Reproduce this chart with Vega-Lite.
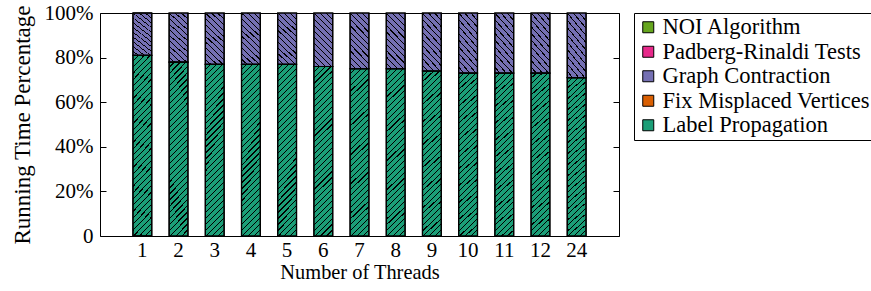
{
  "$schema": "https://vega.github.io/schema/vega-lite/v6.json",
  "autosize": "none",
  "padding": {"left": 100, "top": 13, "right": 252, "bottom": 55},
  "width": 519,
  "height": 223,
  "background": "white",
  "config": {
    "font": "Liberation Serif",
    "view": {"stroke": "black", "strokeWidth": 1},
    "axis": {"labelFont": "Liberation Serif", "titleFont": "Liberation Serif", "labelFontSize": 21, "titleFontSize": 20.4, "titleFontWeight": "normal", "labelColor": "black", "titleColor": "black", "domain": false, "grid": false, "tickColor": "black"}
  },
  "data": {
    "values": [
      {"threads": "1", "series": "Label Propagation", "value": 81},
      {"threads": "1", "series": "Graph Contraction", "value": 19},
      {"threads": "1", "series": "Fix Misplaced Vertices", "value": 0},
      {"threads": "1", "series": "Padberg-Rinaldi Tests", "value": 0},
      {"threads": "1", "series": "NOI Algorithm", "value": 0},
      {"threads": "2", "series": "Label Propagation", "value": 78},
      {"threads": "2", "series": "Graph Contraction", "value": 22},
      {"threads": "3", "series": "Label Propagation", "value": 77},
      {"threads": "3", "series": "Graph Contraction", "value": 23},
      {"threads": "4", "series": "Label Propagation", "value": 77},
      {"threads": "4", "series": "Graph Contraction", "value": 23},
      {"threads": "5", "series": "Label Propagation", "value": 77},
      {"threads": "5", "series": "Graph Contraction", "value": 23},
      {"threads": "6", "series": "Label Propagation", "value": 76},
      {"threads": "6", "series": "Graph Contraction", "value": 24},
      {"threads": "7", "series": "Label Propagation", "value": 75},
      {"threads": "7", "series": "Graph Contraction", "value": 25},
      {"threads": "8", "series": "Label Propagation", "value": 75},
      {"threads": "8", "series": "Graph Contraction", "value": 25},
      {"threads": "9", "series": "Label Propagation", "value": 74},
      {"threads": "9", "series": "Graph Contraction", "value": 26},
      {"threads": "10", "series": "Label Propagation", "value": 73},
      {"threads": "10", "series": "Graph Contraction", "value": 27},
      {"threads": "11", "series": "Label Propagation", "value": 73},
      {"threads": "11", "series": "Graph Contraction", "value": 27},
      {"threads": "12", "series": "Label Propagation", "value": 73},
      {"threads": "12", "series": "Graph Contraction", "value": 27},
      {"threads": "24", "series": "Label Propagation", "value": 71},
      {"threads": "24", "series": "Graph Contraction", "value": 29}
    ]
  },
  "transform": [
    {"stack": "value", "groupby": ["threads"], "sort": [{"field": "series", "order": "descending"}], "as": ["v0", "v1"]}
  ],
  "encoding": {
    "x": {
      "field": "threads", "type": "ordinal",
      "sort": ["1","2","3","4","5","6","7","8","9","10","11","12","24"],
      "scale": {"paddingInner": 0.48, "paddingOuter": 0.91},
      "axis": {"title": "Number of Threads", "labelAngle": 0, "ticks": false, "labelPadding": 3, "titlePadding": 2}
    }
  },
  "layer": [
    {
      "mark": {"type": "bar", "stroke": "black", "strokeWidth": 1.2},
      "encoding": {
        "y": {
          "field": "v0", "type": "quantitative",
          "scale": {"domain": [0, 100], "nice": false},
          "axis": {"title": "Running Time Percentage", "titleFontSize": 23, "orient": "left", "values": [0, 20, 40, 60, 80, 100], "labelExpr": "datum.value == 0 ? '0' : datum.value + '%'", "tickSize": -6, "labelPadding": 13, "titlePadding": 10}
        },
        "y2": {"field": "v1"},
        "color": {
          "field": "series", "type": "nominal",
          "scale": {
            "domain": ["NOI Algorithm", "Padberg-Rinaldi Tests", "Graph Contraction", "Fix Misplaced Vertices", "Label Propagation"],
            "range": ["#66a61e", "#e7298a", "#7570b3", "#d95f02", "#1b9e77"]
          },
          "legend": {
            "title": null, "orient": "none", "legendX": 534, "legendY": 0,
            "strokeColor": "black", "fillColor": "white", "padding": 3,
            "labelFont": "Liberation Serif", "labelFontSize": 22.5, "labelColor": "black", "labelLimit": 400,
            "symbolType": "square", "symbolSize": 121, "symbolStrokeColor": "black", "symbolStrokeWidth": 1, "symbolOpacity": 1,
            "rowPadding": 1.5, "labelOffset": 3
          }
        },
        "opacity": {"value": 1}
      }
    },
    {
      "transform": [{"filter": "datum.series == 'Label Propagation'"}],
      "mark": {
        "type": "bar", "stroke": "black", "strokeWidth": 1.2,
        "fill": {
          "gradient": "linear", "x1": 0, "y1": 0, "x2": 0.1218, "y2": 1.0985,
          "stops": [
            {"offset": 0, "color": "rgba(0,0,0,0)"}, {"offset": 0.025, "color": "rgba(0,0,0,0)"}, {"offset": 0.025, "color": "black"}, {"offset": 0.03125, "color": "black"},
            {"offset": 0.03125, "color": "rgba(0,0,0,0)"}, {"offset": 0.05625, "color": "rgba(0,0,0,0)"}, {"offset": 0.05625, "color": "black"}, {"offset": 0.0625, "color": "black"},
            {"offset": 0.0625, "color": "rgba(0,0,0,0)"}, {"offset": 0.0875, "color": "rgba(0,0,0,0)"}, {"offset": 0.0875, "color": "black"}, {"offset": 0.09375, "color": "black"},
            {"offset": 0.09375, "color": "rgba(0,0,0,0)"}, {"offset": 0.11875, "color": "rgba(0,0,0,0)"}, {"offset": 0.11875, "color": "black"}, {"offset": 0.125, "color": "black"},
            {"offset": 0.125, "color": "rgba(0,0,0,0)"}, {"offset": 0.15, "color": "rgba(0,0,0,0)"}, {"offset": 0.15, "color": "black"}, {"offset": 0.15625, "color": "black"},
            {"offset": 0.15625, "color": "rgba(0,0,0,0)"}, {"offset": 0.18125, "color": "rgba(0,0,0,0)"}, {"offset": 0.18125, "color": "black"}, {"offset": 0.1875, "color": "black"},
            {"offset": 0.1875, "color": "rgba(0,0,0,0)"}, {"offset": 0.2125, "color": "rgba(0,0,0,0)"}, {"offset": 0.2125, "color": "black"}, {"offset": 0.21875, "color": "black"},
            {"offset": 0.21875, "color": "rgba(0,0,0,0)"}, {"offset": 0.24375, "color": "rgba(0,0,0,0)"}, {"offset": 0.24375, "color": "black"}, {"offset": 0.25, "color": "black"},
            {"offset": 0.25, "color": "rgba(0,0,0,0)"}, {"offset": 0.275, "color": "rgba(0,0,0,0)"}, {"offset": 0.275, "color": "black"}, {"offset": 0.28125, "color": "black"},
            {"offset": 0.28125, "color": "rgba(0,0,0,0)"}, {"offset": 0.30625, "color": "rgba(0,0,0,0)"}, {"offset": 0.30625, "color": "black"}, {"offset": 0.3125, "color": "black"},
            {"offset": 0.3125, "color": "rgba(0,0,0,0)"}, {"offset": 0.3375, "color": "rgba(0,0,0,0)"}, {"offset": 0.3375, "color": "black"}, {"offset": 0.34375, "color": "black"},
            {"offset": 0.34375, "color": "rgba(0,0,0,0)"}, {"offset": 0.36875, "color": "rgba(0,0,0,0)"}, {"offset": 0.36875, "color": "black"}, {"offset": 0.375, "color": "black"},
            {"offset": 0.375, "color": "rgba(0,0,0,0)"}, {"offset": 0.4, "color": "rgba(0,0,0,0)"}, {"offset": 0.4, "color": "black"}, {"offset": 0.40625, "color": "black"},
            {"offset": 0.40625, "color": "rgba(0,0,0,0)"}, {"offset": 0.43125, "color": "rgba(0,0,0,0)"}, {"offset": 0.43125, "color": "black"}, {"offset": 0.4375, "color": "black"},
            {"offset": 0.4375, "color": "rgba(0,0,0,0)"}, {"offset": 0.4625, "color": "rgba(0,0,0,0)"}, {"offset": 0.4625, "color": "black"}, {"offset": 0.46875, "color": "black"},
            {"offset": 0.46875, "color": "rgba(0,0,0,0)"}, {"offset": 0.49375, "color": "rgba(0,0,0,0)"}, {"offset": 0.49375, "color": "black"}, {"offset": 0.5, "color": "black"},
            {"offset": 0.5, "color": "rgba(0,0,0,0)"}, {"offset": 0.525, "color": "rgba(0,0,0,0)"}, {"offset": 0.525, "color": "black"}, {"offset": 0.53125, "color": "black"},
            {"offset": 0.53125, "color": "rgba(0,0,0,0)"}, {"offset": 0.55625, "color": "rgba(0,0,0,0)"}, {"offset": 0.55625, "color": "black"}, {"offset": 0.5625, "color": "black"},
            {"offset": 0.5625, "color": "rgba(0,0,0,0)"}, {"offset": 0.5875, "color": "rgba(0,0,0,0)"}, {"offset": 0.5875, "color": "black"}, {"offset": 0.59375, "color": "black"},
            {"offset": 0.59375, "color": "rgba(0,0,0,0)"}, {"offset": 0.61875, "color": "rgba(0,0,0,0)"}, {"offset": 0.61875, "color": "black"}, {"offset": 0.625, "color": "black"},
            {"offset": 0.625, "color": "rgba(0,0,0,0)"}, {"offset": 0.65, "color": "rgba(0,0,0,0)"}, {"offset": 0.65, "color": "black"}, {"offset": 0.65625, "color": "black"},
            {"offset": 0.65625, "color": "rgba(0,0,0,0)"}, {"offset": 0.68125, "color": "rgba(0,0,0,0)"}, {"offset": 0.68125, "color": "black"}, {"offset": 0.6875, "color": "black"},
            {"offset": 0.6875, "color": "rgba(0,0,0,0)"}, {"offset": 0.7125, "color": "rgba(0,0,0,0)"}, {"offset": 0.7125, "color": "black"}, {"offset": 0.71875, "color": "black"},
            {"offset": 0.71875, "color": "rgba(0,0,0,0)"}, {"offset": 0.74375, "color": "rgba(0,0,0,0)"}, {"offset": 0.74375, "color": "black"}, {"offset": 0.75, "color": "black"},
            {"offset": 0.75, "color": "rgba(0,0,0,0)"}, {"offset": 0.775, "color": "rgba(0,0,0,0)"}, {"offset": 0.775, "color": "black"}, {"offset": 0.78125, "color": "black"},
            {"offset": 0.78125, "color": "rgba(0,0,0,0)"}, {"offset": 0.80625, "color": "rgba(0,0,0,0)"}, {"offset": 0.80625, "color": "black"}, {"offset": 0.8125, "color": "black"},
            {"offset": 0.8125, "color": "rgba(0,0,0,0)"}, {"offset": 0.8375, "color": "rgba(0,0,0,0)"}, {"offset": 0.8375, "color": "black"}, {"offset": 0.84375, "color": "black"},
            {"offset": 0.84375, "color": "rgba(0,0,0,0)"}, {"offset": 0.86875, "color": "rgba(0,0,0,0)"}, {"offset": 0.86875, "color": "black"}, {"offset": 0.875, "color": "black"},
            {"offset": 0.875, "color": "rgba(0,0,0,0)"}, {"offset": 0.9, "color": "rgba(0,0,0,0)"}, {"offset": 0.9, "color": "black"}, {"offset": 0.90625, "color": "black"},
            {"offset": 0.90625, "color": "rgba(0,0,0,0)"}, {"offset": 0.93125, "color": "rgba(0,0,0,0)"}, {"offset": 0.93125, "color": "black"}, {"offset": 0.9375, "color": "black"},
            {"offset": 0.9375, "color": "rgba(0,0,0,0)"}, {"offset": 0.9625, "color": "rgba(0,0,0,0)"}, {"offset": 0.9625, "color": "black"}, {"offset": 0.96875, "color": "black"},
            {"offset": 0.96875, "color": "rgba(0,0,0,0)"}, {"offset": 0.99375, "color": "rgba(0,0,0,0)"}, {"offset": 0.99375, "color": "black"}, {"offset": 1, "color": "black"}
          ]
        }
      },
      "encoding": {
        "y": {"field": "v0", "type": "quantitative", "axis": null},
        "y2": {"field": "v1"}
      }
    },
    {
      "transform": [{"filter": "datum.series == 'Graph Contraction'"}],
      "mark": {
        "type": "bar", "stroke": "black", "strokeWidth": 1.2,
        "fill": {
          "gradient": "linear", "x1": 0, "y1": 1, "x2": 0.4196, "y2": -0.202,
          "stops": [
            {"offset": 0, "color": "rgba(0,0,0,0)"}, {"offset": 0.066667, "color": "rgba(0,0,0,0)"}, {"offset": 0.066667, "color": "black"}, {"offset": 0.083333, "color": "black"},
            {"offset": 0.083333, "color": "rgba(0,0,0,0)"}, {"offset": 0.15, "color": "rgba(0,0,0,0)"}, {"offset": 0.15, "color": "black"}, {"offset": 0.166667, "color": "black"},
            {"offset": 0.166667, "color": "rgba(0,0,0,0)"}, {"offset": 0.233333, "color": "rgba(0,0,0,0)"}, {"offset": 0.233333, "color": "black"}, {"offset": 0.25, "color": "black"},
            {"offset": 0.25, "color": "rgba(0,0,0,0)"}, {"offset": 0.316667, "color": "rgba(0,0,0,0)"}, {"offset": 0.316667, "color": "black"}, {"offset": 0.333333, "color": "black"},
            {"offset": 0.333333, "color": "rgba(0,0,0,0)"}, {"offset": 0.4, "color": "rgba(0,0,0,0)"}, {"offset": 0.4, "color": "black"}, {"offset": 0.416667, "color": "black"},
            {"offset": 0.416667, "color": "rgba(0,0,0,0)"}, {"offset": 0.483333, "color": "rgba(0,0,0,0)"}, {"offset": 0.483333, "color": "black"}, {"offset": 0.5, "color": "black"},
            {"offset": 0.5, "color": "rgba(0,0,0,0)"}, {"offset": 0.566667, "color": "rgba(0,0,0,0)"}, {"offset": 0.566667, "color": "black"}, {"offset": 0.583333, "color": "black"},
            {"offset": 0.583333, "color": "rgba(0,0,0,0)"}, {"offset": 0.65, "color": "rgba(0,0,0,0)"}, {"offset": 0.65, "color": "black"}, {"offset": 0.666667, "color": "black"},
            {"offset": 0.666667, "color": "rgba(0,0,0,0)"}, {"offset": 0.733333, "color": "rgba(0,0,0,0)"}, {"offset": 0.733333, "color": "black"}, {"offset": 0.75, "color": "black"},
            {"offset": 0.75, "color": "rgba(0,0,0,0)"}, {"offset": 0.816667, "color": "rgba(0,0,0,0)"}, {"offset": 0.816667, "color": "black"}, {"offset": 0.833333, "color": "black"},
            {"offset": 0.833333, "color": "rgba(0,0,0,0)"}, {"offset": 0.9, "color": "rgba(0,0,0,0)"}, {"offset": 0.9, "color": "black"}, {"offset": 0.916667, "color": "black"},
            {"offset": 0.916667, "color": "rgba(0,0,0,0)"}, {"offset": 0.983333, "color": "rgba(0,0,0,0)"}, {"offset": 0.983333, "color": "black"}, {"offset": 1, "color": "black"}
          ]
        }
      },
      "encoding": {
        "y": {"field": "v0", "type": "quantitative", "axis": null},
        "y2": {"field": "v1"}
      }
    },
    {
      "mark": {"type": "rule", "opacity": 0},
      "encoding": {
        "y": {
          "field": "v1", "type": "quantitative",
          "scale": {"domain": [0, 100], "nice": false},
          "axis": {"orient": "right", "title": null, "labels": false, "values": [0, 20, 40, 60, 80, 100], "tickSize": -6}
        }
      }
    }
  ],
  "resolve": {"axis": {"y": "independent"}}
}
